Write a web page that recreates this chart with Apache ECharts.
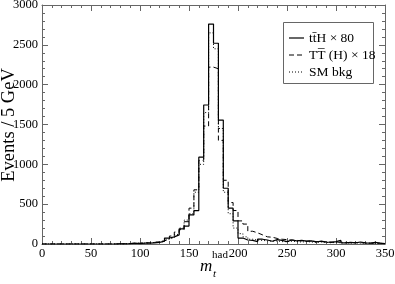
<!DOCTYPE html>
<html><head><meta charset="utf-8">
<script src="https://cdn.jsdelivr.net/npm/echarts@6/dist/echarts.min.js"></script>
<style>html,body{margin:0;padding:0;background:#fff}#c{width:395px;height:284px}</style>
</head><body><div id="c"></div>
<script>
// 5 GeV bins from 0 to 350 (70 bins); values per bin
var binWidth = 5;
var ttH80 = [0,0,0,0,0,0,0,0,0,0, 0,0,0,0,0,5,0,5,10,5,
  10,10,15,20,35,75,90,115,190,225, 365,420,1090,1745,2760,2520,1555,700,450,290,
  75,50,45,30,60,50,35,55,45,30, 50,40,45,35,40,25,35,25,20,30,
  45,15,20,15,25,15,10,20,10,5];
var TTH18 = [0,0,0,0,0,0,0,0,0,0, 0,0,0,0,0,0,5,5,10,10,
  15,15,20,30,40,60,100,150,180,280, 450,680,1050,1480,2220,2200,1300,800,520,420,
  290,250,160,140,115,90,85,70,60,55, 50,45,40,35,40,30,30,25,25,20,
  25,20,15,20,15,15,10,10,10,5];
var SMbkg = [0,0,0,0,0,0,0,0,0,0, 0,0,0,0,0,0,0,5,5,10,
  10,15,20,25,30,60,80,120,200,300, 380,650,1000,1650,2650,2450,1450,650,380,200,
  130,90,60,50,45,40,35,40,30,30, 35,30,25,30,25,20,25,20,15,20,
  15,15,10,15,10,10,10,5,5,5];
var xTicks = [0,50,100,150,200,250,300,350];
var yTicks = [0,500,1000,1500,2000,2500,3000];

function steps(vals){
  var d = vals.map(function(v,i){ return [i*binWidth, v]; });
  d.push([vals.length*binWidth, vals[vals.length-1]]);
  return d;
}
var serif = 'Liberation Serif';
var axisCol = '#666';
var chart = echarts.init(document.getElementById('c'));
function xAx(pos, show){
  return {type:'value', min:xTicks[0], max:xTicks[xTicks.length-1], interval:50, position:pos,
    axisLine:{show:true, onZero:false, lineStyle:{color:axisCol, width:1}},
    axisTick:{show:true, inside:true, length:6, lineStyle:{color:axisCol}},
    minorTick:{show:true, splitNumber:5, length:3, lineStyle:{color:axisCol}},
    splitLine:{show:false}, minorSplitLine:{show:false},
    axisLabel:{show:show, fontFamily:serif, fontSize:12.5, color:'#000', margin:3,
      formatter:function(v){return String(v);}}};
}
function yAx(pos, show){
  return {type:'value', min:yTicks[0], max:yTicks[yTicks.length-1], interval:500, position:pos,
    axisLine:{show:true, onZero:false, lineStyle:{color:axisCol, width:1}},
    axisTick:{show:true, inside:true, length:6, lineStyle:{color:axisCol}},
    minorTick:{show:true, splitNumber:5, length:3, lineStyle:{color:axisCol}},
    splitLine:{show:false}, minorSplitLine:{show:false},
    axisLabel:{show:show, fontFamily:serif, fontSize:12.5, color:'#000', margin:4,
      formatter:function(v){return String(v);}}};
}
chart.setOption({
  animation:false,
  grid:{left:42, right:10, top:5, bottom:40, containLabel:false, outerBoundsMode:'none'},
  xAxis:[xAx('bottom', true), xAx('top', false)],
  yAxis:[yAx('left', true), yAx('right', false)],
  legend:{show:false},
  series:[
    {name:'ttH', type:'line', step:'end', symbol:'none', data:steps(ttH80),
     lineStyle:{color:'#000', width:1.2, type:'solid'}},
    {name:'TTH', type:'line', step:'end', symbol:'none', data:steps(TTH18),
     lineStyle:{color:'#000', width:1, type:[5,3]}},
    {name:'SM', type:'line', step:'end', symbol:'none', data:steps(SMbkg),
     lineStyle:{color:'#000', width:1, type:[1,2]}}
  ],
  graphic:[
    {type:'text', x:9, y:125, rotation:Math.PI/2, style:{text:'Events / 5 GeV', font:'18.5px "Liberation Serif"', fill:'#000', align:'center', verticalAlign:'middle'}},
    {type:'rect', shape:{x:283.5, y:22.5, width:90, height:61}, style:{fill:'#fff', stroke:'#666', lineWidth:1}},
    {type:'line', shape:{x1:289, y1:38, x2:304, y2:38}, style:{stroke:'#000', lineWidth:1.2}},
    {type:'line', shape:{x1:289, y1:55, x2:304, y2:55}, style:{stroke:'#000', lineWidth:1, lineDash:[5,3]}},
    {type:'line', shape:{x1:289, y1:72, x2:304, y2:72}, style:{stroke:'#000', lineWidth:1, lineDash:[1,2]}},
    {type:'text', x:309, y:38, style:{text:'tt\u0304H \u00d7 80', font:'13.5px "Liberation Serif"', fill:'#000', verticalAlign:'middle'}},
    {type:'text', x:309, y:55, style:{text:'TT\u0305 (H) \u00d7 18', font:'13.5px "Liberation Serif"', fill:'#000', verticalAlign:'middle'}},
    {type:'text', x:309, y:72, style:{text:'SM bkg', font:'13.5px "Liberation Serif"', fill:'#000', verticalAlign:'middle'}},
    {type:'text', x:200, y:267, style:{text:'m', font:'italic 17px "Liberation Serif"', fill:'#000', verticalAlign:'middle'}},
    {type:'text', x:212, y:255, style:{text:'had', font:'11px "Liberation Serif"', fill:'#000', verticalAlign:'middle'}},
    {type:'text', x:213, y:274, style:{text:'t', font:'italic 11px "Liberation Serif"', fill:'#000', verticalAlign:'middle'}}
  ]
});
</script></body></html>
